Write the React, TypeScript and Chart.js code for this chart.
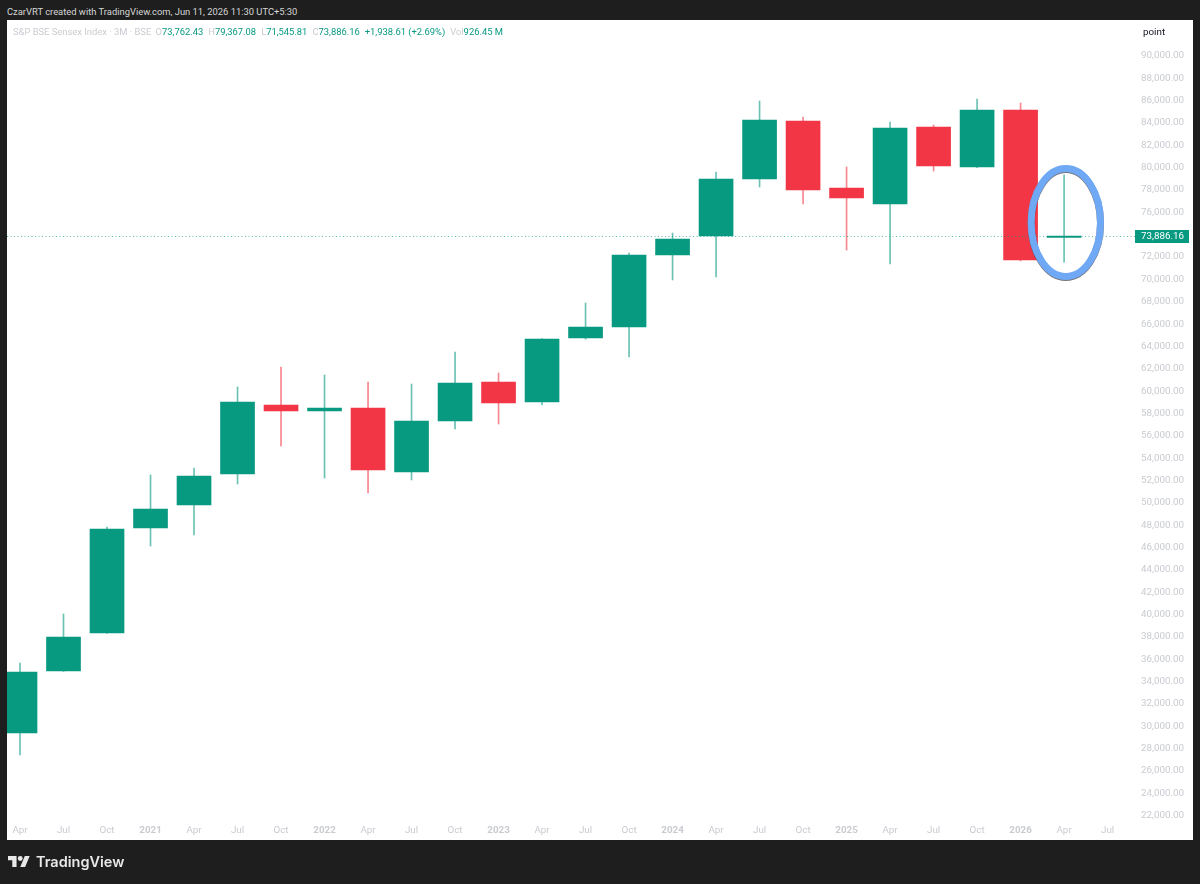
import { useEffect, useRef } from "react"
import { Chart, registerables } from "chart.js"

Chart.register(...registerables)

const axisLabels = ["Apr", "Jul", "Oct", "2021", "Apr", "Jul", "Oct", "2022", "Apr", "Jul", "Oct", "2023", "Apr", "Jul", "Oct", "2024", "Apr", "Jul", "Oct", "2025", "Apr", "Jul", "Oct", "2026", "Apr", "Jul"]
const priceTicks = [22000, 24000, 26000, 28000, 30000, 32000, 34000, 36000, 38000, 40000, 42000, 44000, 46000, 48000, 50000, 52000, 54000, 56000, 58000, 60000, 62000, 64000, 66000, 68000, 70000, 72000, 74000, 76000, 78000, 80000, 82000, 84000, 86000, 88000, 90000]

// quarterly candles, Apr 2020 to Apr 2026
const opens = [29388, 34939, 38341, 47742, 49801, 52577, 58755, 58218, 58485, 52756, 57322, 60813, 59023, 64752, 65737, 72184, 73885, 78988, 84180, 78182, 76750, 83643, 80062, 85165, 73762.43]
const closes = [34849, 37984, 47652, 49443, 52397, 59023, 58218, 58485, 52935, 57322, 60724, 58933, 64663, 65737, 72184, 73616, 78988, 84270, 78003, 77287, 83554, 80152, 85165, 71736, 73886.16]
const highs = [35656, 40043, 47832, 52487, 53114, 60366, 62156, 61440, 60813, 60634, 63499, 61620, 64700, 67886, 72363, 74153, 79615, 85971, 84539, 80062, 84091, 83822, 86150, 85792, 79367.08]
const lows = [27420, 34900, 38300, 46130, 47115, 51681, 55083, 52218, 50875, 52040, 56605, 57053, 58755, 64650, 63052, 69945, 70214, 78272, 76750, 72632, 71378, 79704, 80000, 71650, 71545.81]

const lastPrice = 73886.16
const lastPriceText = "73,886.16"
const circleCentre = { x: 24.04, y: 75093 }

const UP = "#089981"
const DOWN = "#f23645"
const GREY = "#c9cbd0"
const SMALL_FONT = "Roboto"

const isUp = (i: number) => closes[i] >= opens[i]

// dotted last price line, its tag on the axis and the hand drawn ring
const overlayPlugin = {
  id: "overlay",
  afterDatasetsDraw(chart: Chart) {
    const { ctx, chartArea, scales } = chart
    const y = scales.y.getPixelForValue(lastPrice)

    ctx.save()
    ctx.strokeStyle = "rgba(8,153,129,0.65)"
    ctx.lineWidth = 1
    ctx.setLineDash([1, 2.5])
    ctx.beginPath()
    ctx.moveTo(chartArea.left, Math.round(y) + 0.5)
    ctx.lineTo(chartArea.right, Math.round(y) + 0.5)
    ctx.stroke()
    ctx.setLineDash([])

    const cx = scales.x.getPixelForValue(circleCentre.x)
    const cy = scales.y.getPixelForValue(circleCentre.y)
    ctx.strokeStyle = "rgba(60,60,70,0.7)"
    ctx.lineWidth = 7
    ctx.beginPath()
    ctx.ellipse(cx, cy + 1, 34.7, 54, 0, 0, Math.PI * 2)
    ctx.stroke()
    ctx.strokeStyle = "#6fa8f5"
    ctx.lineWidth = 7
    ctx.beginPath()
    ctx.ellipse(cx, cy, 34.7, 54, 0, 0, Math.PI * 2)
    ctx.stroke()

    ctx.fillStyle = UP
    ctx.fillRect(chartArea.right, Math.round(y) - 6, 54, 13)
    ctx.fillStyle = "#ffffff"
    ctx.font = `9.8px ${SMALL_FONT}`
    ctx.textAlign = "right"
    ctx.textBaseline = "middle"
    ctx.fillText(lastPriceText, 1184, Math.round(y) + 0.5)
    ctx.restore()
  },
}

export default function App() {
  const canvasRef = useRef<HTMLCanvasElement>(null)

  useEffect(() => {
    document.body.style.margin = "0"
    if (!canvasRef.current) return

    const chart = new Chart(canvasRef.current, {
      type: "bar",
      data: {
        datasets: [
          {
            label: "Body",
            data: opens.map((open, i) => ({ x: i, y: [open, closes[i]] })),
            backgroundColor: opens.map((_, i) => (isUp(i) ? UP : DOWN)),
            barThickness: 34,
            grouped: false,
            order: 1,
          },
          {
            label: "Wick",
            data: lows.map((low, i) => ({ x: i, y: [low, highs[i]] })),
            backgroundColor: lows.map((_, i) => (isUp(i) ? "rgba(8,153,129,0.6)" : "rgba(242,54,69,0.6)")),
            barThickness: 1,
            grouped: false,
            order: 2,
          },
        ] as any,
      },
      options: {
        responsive: false,
        animation: false,
        layout: { padding: { left: 7, top: 20, right: 16, bottom: 44 } },
        plugins: {
          legend: { display: false },
          title: { display: false },
          tooltip: { enabled: false },
        },
        scales: {
          x: {
            type: "linear",
            offset: false,
            min: -0.299,
            max: 25.63,
            grid: { display: false, drawTicks: false },
            border: { display: false },
            afterBuildTicks: (scale: any) => {
              scale.ticks = axisLabels.map((_, i) => ({ value: i }))
            },
            afterFit: (scale: any) => {
              scale.height = 18
            },
            ticks: {
              autoSkip: false,
              maxRotation: 0,
              padding: 3,
              font: (ctx: any) => ({
                family: SMALL_FONT,
                size: 9.8,
                weight: /^\d+$/.test(axisLabels[ctx.tick?.value] ?? "") ? "bold" : "normal",
              }),
              color: GREY,
              callback: (value: any) => axisLabels[value] ?? "",
            },
          },
          y: {
            type: "linear",
            position: "right",
            min: 21420,
            max: 93223,
            grid: { display: false, drawTicks: false },
            border: { display: false },
            afterBuildTicks: (scale: any) => {
              scale.ticks = priceTicks.map((value) => ({ value }))
            },
            afterFit: (scale: any) => {
              scale.width = 49
            },
            ticks: {
              autoSkip: false,
              crossAlign: "far",
              padding: 0,
              font: { family: SMALL_FONT, size: 9.8 },
              color: GREY,
              callback: (value: any) =>
                Number(value).toLocaleString("en-US", { minimumFractionDigits: 2 }),
            },
          },
        },
      },
      plugins: [overlayPlugin],
    } as any)

    return () => chart.destroy()
  }, [])

  const legendStyle = { color: GREY }
  const valueStyle = { color: UP }

  return (
    <div style={{ position: "absolute", left: 0, top: 0, width: 1200, height: 884, background: "#1e1e1e", overflow: "hidden", fontFamily: "Roboto, sans-serif" }}>
      <div style={{ position: "absolute", left: 7, top: 4, fontSize: 9.4, lineHeight: "15px", color: "#d6d6d6", whiteSpace: "nowrap" }}>
        CzarVRT created with TradingView.com, Jun 11, 2026 11:30 UTC+5:30
      </div>
      <div style={{ position: "absolute", left: 7, top: 20, width: 1186, height: 820, background: "#ffffff" }} />
      <canvas ref={canvasRef} width={1200} height={884} style={{ position: "absolute", left: 0, top: 0 }} />
      <div style={{ position: "absolute", left: 13, top: 24, fontSize: 9.4, lineHeight: "15px", whiteSpace: "nowrap" }}>
        <span style={legendStyle}>S&amp;P BSE Sensex Index · 3M · BSE </span>
        <span style={{ ...legendStyle, marginLeft: 2 }}>O</span><span style={valueStyle}>73,762.43</span>
        <span style={{ ...legendStyle, marginLeft: 5 }}>H</span><span style={valueStyle}>79,367.08</span>
        <span style={{ ...legendStyle, marginLeft: 5 }}>L</span><span style={valueStyle}>71,545.81</span>
        <span style={{ ...legendStyle, marginLeft: 5 }}>C</span><span style={valueStyle}>73,886.16</span>
        <span style={{ ...valueStyle, marginLeft: 5 }}>+1,938.61 (+2.69%)</span>
        <span style={{ ...legendStyle, marginLeft: 5 }}>Vol</span><span style={valueStyle}>926.45 M</span>
      </div>
      <div style={{ position: "absolute", left: 1143, top: 24, fontSize: 9.8, lineHeight: "15px", color: "#131722" }}>point</div>
      <svg viewBox="0 4 36 18" width={22} height={11} style={{ position: "absolute", left: 8, top: 856 }}>
        <path fill="#e8e8e8" d="M14 22H7V11H0V4h14v18zM28 22h-8l7.5-18h8L28 22z" />
        <circle fill="#e8e8e8" cx={20} cy={8} r={4} />
      </svg>
      <div style={{ position: "absolute", left: 36, top: 851, fontFamily: "Inter, sans-serif", fontSize: 14.5, lineHeight: "22px", fontWeight: 600, color: "#e8e8e8" }}>TradingView</div>
    </div>
  )
}
